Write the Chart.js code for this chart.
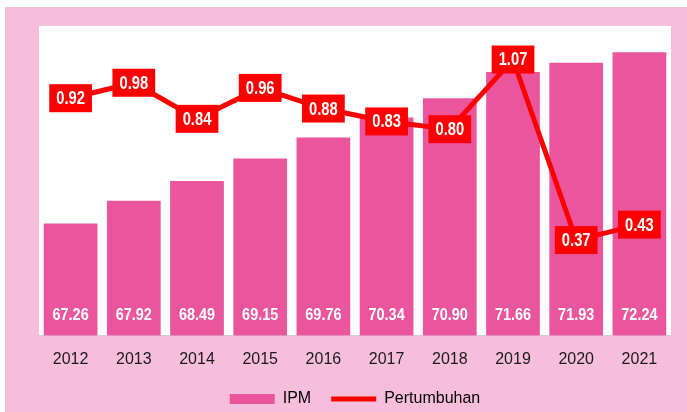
<!DOCTYPE html>
<html>
<head>
<meta charset="utf-8">
<script src="https://cdn.jsdelivr.net/npm/chart.js@4.4.1/dist/chart.umd.min.js"></script>
<style>
  body { margin: 0; background: #fff; }
  #wrap { width: 687px; height: 412px; }
</style>
</head>
<body>
<div id="wrap"><canvas id="myChart" width="687" height="412"></canvas></div>
<script>
const years = ['2012', '2013', '2014', '2015', '2016', '2017', '2018', '2019', '2020', '2021'];
const ipm = [67.26, 67.92, 68.49, 69.15, 69.76, 70.34, 70.90, 71.66, 71.93, 72.24];
const growth = [0.92, 0.98, 0.84, 0.96, 0.88, 0.83, 0.80, 1.07, 0.37, 0.43];

const FONT = '"Liberation Sans", Arial, sans-serif';
const PINK_BG = '#f7bedb';
const BAR = '#eb559e';
const RED = '#ff0000';

// fondo rosa + area blanca del grafico
const background = {
    id: 'background',
    beforeDraw(chart) {
        const ctx = chart.ctx;
        const a = chart.chartArea;
        ctx.save();
        ctx.fillStyle = '#fff';
        ctx.fillRect(0, 0, chart.width, chart.height);
        ctx.fillStyle = PINK_BG;
        ctx.fillRect(5, 7, chart.width - 5, chart.height - 7);
        ctx.fillStyle = '#fff';
        ctx.fillRect(a.left, a.top, a.right - a.left, a.bottom - a.top);
        ctx.restore();
    }
};

// texto estrecho (tipo Arial Narrow) escalando en horizontal
function narrowText(ctx, txt, x, y, sx) {
    ctx.save();
    ctx.translate(x, y);
    ctx.scale(sx, 1);
    ctx.fillText(txt, 0, 0);
    ctx.restore();
}

// etiquetas de valores
const valueLabels = {
    id: 'valueLabels',
    afterDatasetsDraw(chart) {
        const ctx = chart.ctx;
        const yScale = chart.scales.y;
        ctx.save();
        ctx.textAlign = 'center';
        ctx.textBaseline = 'middle';

        // valores IPM dentro de las barras
        ctx.font = 'bold 17px ' + FONT;
        ctx.fillStyle = '#fff';
        chart.getDatasetMeta(0).data.forEach((bar, i) => {
            narrowText(ctx, ipm[i].toFixed(2), bar.x, yScale.bottom - 20, 0.85);
        });

        // cajas rojas del crecimiento
        ctx.font = 'bold 18px ' + FONT;
        chart.getDatasetMeta(1).data.forEach((pt, i) => {
            const txt = growth[i].toFixed(2);
            const w = ctx.measureText(txt).width * 0.82 + 14;
            const h = 28;
            ctx.fillStyle = RED;
            ctx.fillRect(pt.x - w / 2, pt.y - h / 2, w, h);
            ctx.fillStyle = '#fff';
            narrowText(ctx, txt, pt.x, pt.y + 1, 0.82);
        });
        ctx.restore();
    }
};

const ctx = document.getElementById('myChart').getContext('2d');
const myChart = new Chart(ctx, {
    type: 'bar',
    data: {
        labels: years,
        datasets: [
            {
                type: 'bar',
                label: 'IPM',
                data: ipm,
                backgroundColor: BAR,
                yAxisID: 'y',
                order: 2,
                categoryPercentage: 1,
                barPercentage: 0.85
            },
            {
                type: 'line',
                label: 'Pertumbuhan',
                data: growth,
                borderColor: RED,
                borderWidth: 5,
                pointRadius: 0,
                tension: 0,
                yAxisID: 'y1',
                order: 1
            }
        ]
    },
    options: {
        responsive: false,
        animation: false,
        layout: {
            padding: { left: 39, right: 16, top: 26, bottom: -5 }
        },
        scales: {
            x: {
                grid: { display: false, drawTicks: false },
                border: { display: true, color: '#d0d0d0', width: 1 },
                ticks: {
                    color: '#1a1a1a',
                    padding: 14,
                    font: { family: FONT, size: 16 }
                },
                afterFit(scale) {
                    scale.height = 35.5;
                }
            },
            y: {
                display: false,
                min: 64,
                max: 73
            },
            y1: {
                display: false,
                position: 'right',
                min: 0,
                max: 1.2
            }
        },
        plugins: {
            tooltip: { enabled: false },
            legend: {
                position: 'bottom',
                labels: {
                    usePointStyle: true,
                    pointStyleWidth: 45,
                    boxWidth: 45,
                    boxHeight: 10,
                    padding: 20,
                    color: '#1a1a1a',
                    font: { family: FONT, size: 16 },
                    generateLabels: function () {
                        return [
                            { text: 'IPM', fillStyle: BAR, strokeStyle: BAR, lineWidth: 0, pointStyle: 'rect', datasetIndex: 0 },
                            { text: 'Pertumbuhan', fillStyle: RED, strokeStyle: RED, lineWidth: 5, pointStyle: 'line', datasetIndex: 1 }
                        ];
                    }
                }
            }
        }
    },
    plugins: [background, valueLabels]
});
</script>
</body>
</html>
